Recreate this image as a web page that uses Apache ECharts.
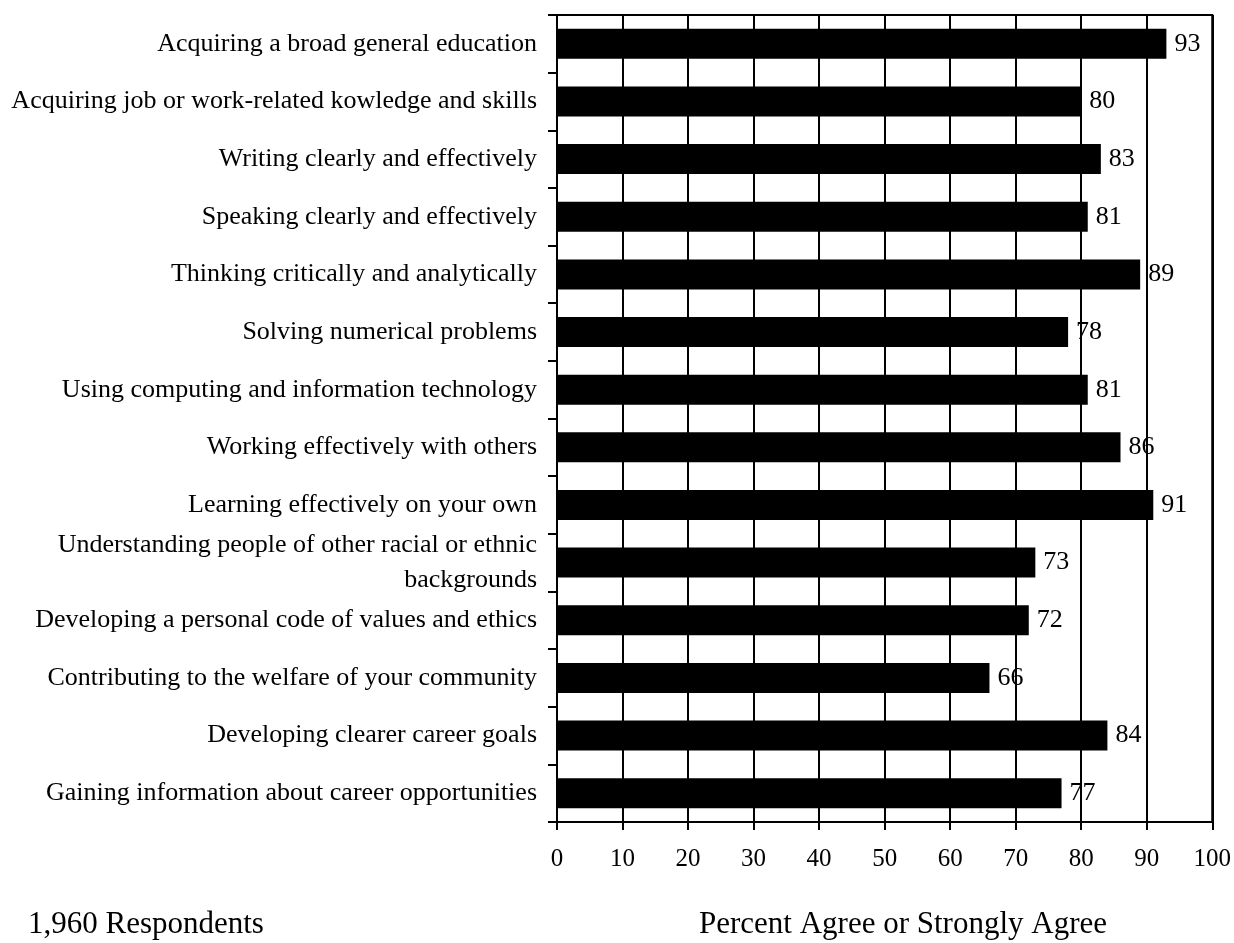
<!DOCTYPE html>
<html>
<head>
<meta charset="utf-8">
<script src="https://cdn.jsdelivr.net/npm/echarts@6/dist/echarts.min.js"></script>
<style>
html,body{margin:0;padding:0;background:#fff;}
#chart{width:1234px;height:943px;}
</style>
</head>
<body>
<div id="chart"></div>
<script>
const categories = [
  "Acquiring a broad general education",
  "Acquiring job or work-related kowledge and skills",
  "Writing clearly and effectively",
  "Speaking clearly and effectively",
  "Thinking critically and analytically",
  "Solving numerical problems",
  "Using computing and information technology",
  "Working effectively with others",
  "Learning effectively on your own",
  "Understanding people of other racial or ethnic\nbackgrounds",
  "Developing a personal code of values and ethics",
  "Contributing to the welfare of your community",
  "Developing clearer career goals",
  "Gaining information about career opportunities"
];
const values = [93, 80, 83, 81, 89, 78, 81, 86, 91, 73, 72, 66, 84, 77];
const xTicks = [0, 10, 20, 30, 40, 50, 60, 70, 80, 90, 100];
const respondentsText = "1,960 Respondents";
const axisTitle = "Percent Agree or Strongly Agree";

const FONT = "'Liberation Serif', 'Times New Roman', serif";
const chart = echarts.init(document.getElementById('chart'), null, {renderer: 'canvas'});
chart.setOption({
  backgroundColor: '#ffffff',
  animation: false,
  grid: {
    left: 557, right: 21, top: 15, bottom: 121,
    show: true, borderColor: '#000', borderWidth: 2, backgroundColor: 'transparent'
  },
  xAxis: {
    type: 'value',
    min: xTicks[0],
    max: xTicks[xTicks.length - 1],
    interval: 10,
    axisLine: {show: true, lineStyle: {color: '#000', width: 2}},
    axisTick: {show: true, length: 8, inside: false, lineStyle: {color: '#000', width: 2}},
    splitLine: {show: true, lineStyle: {color: '#000', width: 2}},
    axisLabel: {
      margin: 25, color: '#000', fontFamily: FONT, fontSize: 25,
      formatter: v => xTicks.includes(v) ? String(v) : ''
    }
  },
  yAxis: {
    type: 'category',
    inverse: true,
    data: categories,
    axisLine: {show: true, lineStyle: {color: '#000', width: 2}},
    axisTick: {show: true, length: 9, alignWithLabel: false, lineStyle: {color: '#000', width: 2}},
    axisLabel: {
      margin: 20, color: '#000', fontFamily: FONT, fontSize: 26, lineHeight: 35, align: 'right'
    },
    splitLine: {show: false}
  },
  series: [{
    type: 'bar',
    data: values,
    barCategoryGap: '48%',
    itemStyle: {color: '#000'},
    label: {
      show: true, position: 'right', distance: 8,
      color: '#000', fontFamily: FONT, fontSize: 26
    }
  }],
  graphic: [
    {type: 'text', left: 28, top: 909, style: {text: respondentsText, font: '31px ' + FONT, fill: '#000'}},
    {type: 'text', left: 699, top: 909, style: {text: axisTitle, font: '31px ' + FONT, fill: '#000'}}
  ]
});
</script>
</body>
</html>
